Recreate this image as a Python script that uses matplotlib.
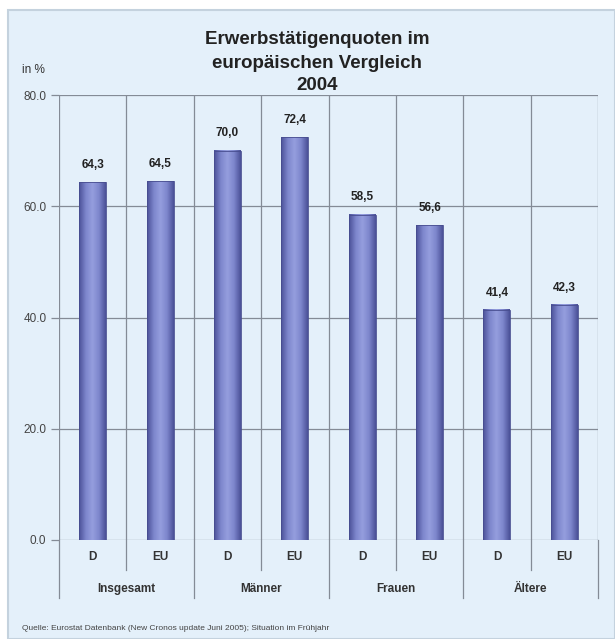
import matplotlib
matplotlib.use("Agg")
import matplotlib.pyplot as plt
import numpy as np
from matplotlib.patches import Rectangle
from matplotlib.colors import LinearSegmentedColormap

plt.rcParams['font.family'] = ['Liberation Sans', 'DejaVu Sans']

# Data
groups = ["Insgesamt", "Männer", "Frauen", "Ältere"]
regions = ["D", "EU", "D", "EU", "D", "EU", "D", "EU"]
values = [64.3, 64.5, 70.0, 72.4, 58.5, 56.6, 41.4, 42.3]
yticks = [0.0, 20.0, 40.0, 60.0, 80.0]
title_lines = ["Erwerbstätigenquoten im", "europäischen Vergleich", "2004"]
source = "Quelle: Eurostat Datenbank (New Cronos update Juni 2005); Situation im Frühjahr"

W, H = 615, 639
bg = "#e4f0fa"
fig = plt.figure(figsize=(W / 100, H / 100), dpi=100)
fig.patch.set_facecolor("white")

# Light blue panel with a thin border
panel = Rectangle((8 / W, 0), 1 - 8 / W, 1 - 10 / H, transform=fig.transFigure,
                  facecolor=bg, edgecolor="#c4d2de", linewidth=1.5, zorder=-10)
fig.patches.append(panel)

ax = fig.add_axes([59 / W, 1 - 540 / H, (598 - 59) / W, (540 - 95) / H])
ax.set_zorder(1)
ax.set_facecolor(bg)
n = len(values)
grid_c = "#848b96"

# Grid: horizontal at ticks, vertical between columns
for y in yticks:
    ax.axhline(y, color=grid_c, linewidth=0.9, zorder=1)
for i in range(n + 1):
    ax.axvline(i, color=grid_c, linewidth=0.9, zorder=1)

for s in ax.spines.values():
    s.set_visible(False)

# Bars with a horizontal shading gradient
cmap = LinearSegmentedColormap.from_list(
    "barshade", ["#4b5198", "#7d86cc", "#959ede", "#7d86cc", "#4b5198"])
grad = np.linspace(0, 1, 64).reshape(1, -1)
bw = 0.40
for i, v in enumerate(values):
    x0 = i + 0.5 - bw / 2
    ax.imshow(grad, cmap=cmap, aspect="auto", extent=(x0, x0 + bw, 0, v),
              zorder=2, interpolation="bilinear")
    ax.add_patch(Rectangle((x0, 0), bw, v, facecolor="none",
                           edgecolor="#474d8f", linewidth=0.6, zorder=3))
    ax.text(i + 0.5, v + 2.0, f"{v:.1f}".replace(".", ","), ha="center",
            va="bottom", fontsize=8.5, fontweight="bold", color="#222222", zorder=4)
ax.set_xlim(0, n)
ax.set_ylim(0, 80)

ax.set_yticks(yticks)
ax.set_yticklabels([f"{v:.1f}" for v in yticks], fontsize=8.5, color="#444444")
ax.tick_params(axis="y", length=6, width=0.9, color=grid_c, pad=3)
ax.set_xticks([])

# Category axis below the plot: region labels and group labels
tr = ax.get_xaxis_transform()
for i in range(n + 1):
    bottom = -0.13 if i % 2 == 0 else -0.068
    ax.plot([i, i], [0, bottom], transform=tr, color=grid_c,
            linewidth=0.9, clip_on=False)
for i, r in enumerate(regions):
    ax.text(i + 0.5, -0.038, r, transform=tr, ha="center", va="center",
            fontsize=8.5, fontweight="bold", color="#333333")
for g, name in enumerate(groups):
    ax.text(2 * g + 1, -0.110, name, transform=tr, ha="center", va="center",
            fontsize=8.5, fontweight="bold", color="#333333")

# Title, unit and source
for k, line in enumerate(title_lines):
    fig.text(317 / W, 1 - (40 + 23 * k) / H, line, ha="center", va="center",
             fontsize=13.5, fontweight="bold", color="#222222")
fig.text(22 / W, 1 - 70 / H, "in %", ha="left", va="center",
         fontsize=8.5, color="#333333")
fig.text(22 / W, 1 - 628 / H, source, ha="left", va="center",
         fontsize=6, color="#444444")

fig.savefig("out.png", dpi=100, facecolor=fig.get_facecolor())
